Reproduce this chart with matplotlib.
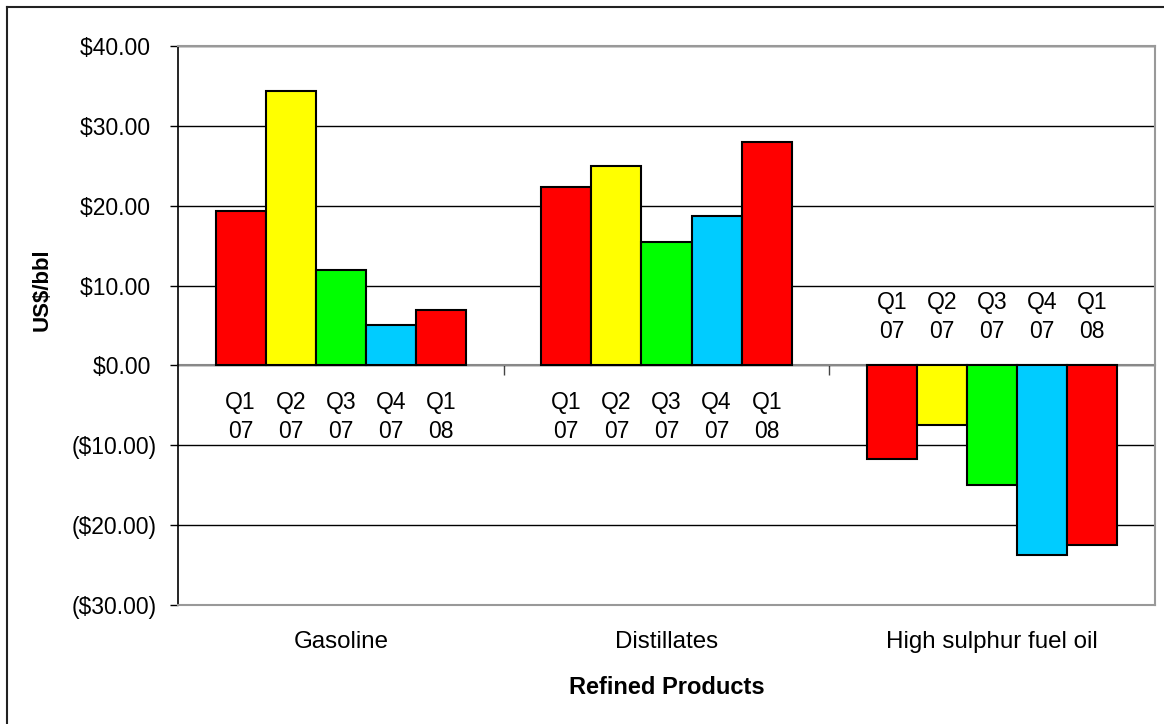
import matplotlib
matplotlib.use("Agg")
import matplotlib.pyplot as plt
from matplotlib.lines import Line2D
from matplotlib.ticker import FuncFormatter


products: list[str] = ["Gasoline", "Distillates", "High sulphur fuel oil"]
quarters: list[str] = ["Q1\n07", "Q2\n07", "Q3\n07", "Q4\n07", "Q1\n08"]

# Crack spreads per quarter, US$/bbl (one list per product)
gasoline: list[float] = [19.4, 34.4, 11.9, 5.1, 7.0]
distillates: list[float] = [22.4, 25.0, 15.4, 18.7, 28.0]
hsfo: list[float] = [-11.75, -7.4, -15.0, -23.8, -22.5]

quarter_colors: list[str] = ["#ff0000", "#ffff00", "#00ff00", "#00ccff", "#ff0000"]

y_ticks: list[float] = [-30, -20, -10, 0, 10, 20, 30, 40]


def dollar_label(value: float, _pos=None) -> str:
    # Accounting style: negatives in brackets, positives keep room for ")"
    if value < 0:
        return f"(${abs(value):.2f})"
    return f"${value:.2f} "


def main() -> None:
    plt.rcParams["font.family"] = ["Liberation Sans", "DejaVu Sans"]

    fig = plt.figure(figsize=(11.64, 7.24), dpi=100)
    ax = fig.add_axes([178 / 1164, 1 - 605 / 724, (1155 - 178) / 1164, (605 - 46) / 724])

    series = [gasoline, distillates, hsfo]
    bar_width = 1 / 6.5
    n = len(quarters)

    # Bars, grouped by product
    for p_idx, values in enumerate(series):
        for q_idx, value in enumerate(values):
            x = p_idx + (q_idx - (n - 1) / 2) * bar_width
            ax.bar(x, value, width=bar_width, color=quarter_colors[q_idx],
                   edgecolor="black", linewidth=1.5, zorder=3)
            # Quarter label on the opposite side of the zero line
            offset = -37 if value >= 0 else 35
            ax.annotate(quarters[q_idx], xy=(x, 0), xytext=(0, offset),
                        textcoords="offset points", ha="center", va="center",
                        fontsize=16.5, linespacing=1.35, zorder=4)

    # Axes limits and grid
    ax.set_xlim(-0.5, len(products) - 0.5)
    ax.set_ylim(-30, 40)
    ax.set_yticks(y_ticks)
    ax.yaxis.set_major_formatter(FuncFormatter(dollar_label))
    ax.tick_params(axis="y", direction="out", length=6, width=1, pad=9.5,
                   labelsize=16.5, color="black")
    ax.yaxis.grid(True, color="black", linewidth=1)
    ax.set_axisbelow(True)

    # Category axis sits on the zero line
    ax.spines["bottom"].set_position(("data", 0))
    ax.spines["bottom"].set_color("#888888")
    ax.spines["bottom"].set_linewidth(1.5)
    ax.spines["bottom"].set_zorder(2)
    ax.set_xticks([0.5 + i for i in range(len(products) - 1)])
    ax.set_xticklabels([])
    ax.tick_params(axis="x", direction="out", length=7, width=1, color="#444444")

    ax.spines["left"].set_color("black")
    ax.spines["left"].set_linewidth(1.2)
    for side in ("top", "right"):
        ax.spines[side].set_color("#999999")
        ax.spines[side].set_linewidth(1.5)
    ax.axhline(-30, color="#999999", linewidth=1.5, clip_on=False, zorder=5)

    # Product names under the plot area
    for p_idx, name in enumerate(products):
        ax.text(p_idx, -34.6, name, ha="center", va="center", fontsize=17.4)

    fig.text(667 / 1164, 1 - 687 / 724, "Refined Products", ha="center", va="center",
             fontsize=17, fontweight="bold")
    fig.text(42.5 / 1164, 1 - 290 / 724, "US$/bbl", ha="center", va="center",
             rotation=90, fontsize=16, fontweight="bold")

    # Chart frame
    fig.add_artist(Line2D([6.5 / 1164, 6.5 / 1164], [0, 1 - 7 / 724],
                          transform=fig.transFigure, color="#222222", linewidth=1.5))
    fig.add_artist(Line2D([6.5 / 1164, 1], [1 - 7 / 724, 1 - 7 / 724],
                          transform=fig.transFigure, color="#222222", linewidth=1.5))

    fig.savefig("out.png", dpi=100, facecolor="white")


if __name__ == "__main__":
    main()
